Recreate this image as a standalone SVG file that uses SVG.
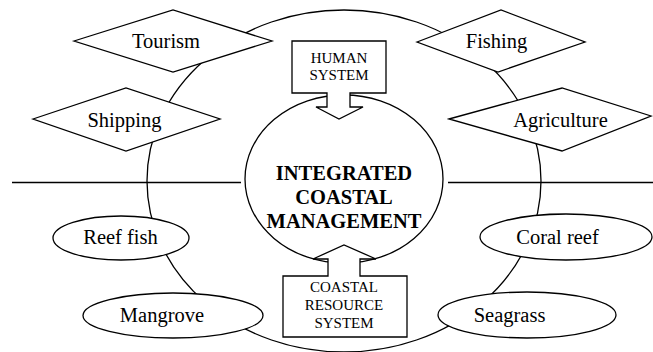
<svg xmlns="http://www.w3.org/2000/svg" width="653" height="352" viewBox="0 0 653 352">
<style>
.s{fill:#fff;stroke:#000;stroke-width:1.3}
.l{fill:none;stroke:#000;stroke-width:1.3}
text{font-family:'Liberation Serif','Times New Roman','DejaVu Serif',serif;fill:#000;text-anchor:middle}
.t{font-size:20.5px}
.c{font-size:15px}
.b{font-size:20.5px;font-weight:bold}
</style>
<rect width="653" height="352" fill="#fff"/>
<g id="connectors">
<ellipse class="l" cx="344" cy="181" rx="197" ry="171"/>
<line class="l" x1="12" y1="182.5" x2="241" y2="182.5"/>
<line class="l" x1="448" y1="182.5" x2="653" y2="182.5"/>
</g>
<g id="icm">
<ellipse class="s" cx="344" cy="179" rx="99" ry="84"/>
<text class="b" x="344" y="180" font-family="Liberation Serif, serif">INTEGRATED</text>
<text class="b" x="344" y="204" font-family="Liberation Serif, serif">COASTAL</text>
<text class="b" x="344" y="228" font-family="Liberation Serif, serif">MANAGEMENT</text>
</g>
<g id="human">
<path class="s" d="M292,41 H386 V93 H350 V107 H363 L339,119 L316,107 H327 V93 H292 Z"/>
<text class="c" x="339" y="63" font-family="Liberation Serif, serif">HUMAN</text>
<text class="c" x="339" y="80" font-family="Liberation Serif, serif">SYSTEM</text>
</g>
<g id="coastal">
<path class="s" d="M283,276 H328 V259 H313 L344,245 L376,259 H360 V276 H407 V337 H283 Z"/>
<text class="c" x="344" y="292" font-family="Liberation Serif, serif">COASTAL</text>
<text class="c" x="344" y="310" font-family="Liberation Serif, serif">RESOURCE</text>
<text class="c" x="344" y="328" font-family="Liberation Serif, serif">SYSTEM</text>
</g>
<g id="tourism">
<polygon class="s" points="74,41 173,10 272,41 173,72"/>
<text class="t" x="166" y="48" font-family="Liberation Serif, serif">Tourism</text>
</g>
<g id="shipping">
<polygon class="s" points="33,119 126,88 220,119 126,151"/>
<text class="t" x="124.5" y="127" font-family="Liberation Serif, serif">Shipping</text>
</g>
<g id="fishing">
<polygon class="s" points="417,42 501,10 585,42 498,72"/>
<text class="t" x="496.5" y="48" font-family="Liberation Serif, serif">Fishing</text>
</g>
<g id="agriculture">
<polygon class="s" points="449,119 562,88 651,116 562,151"/>
<text class="t" x="560.5" y="127" font-family="Liberation Serif, serif">Agriculture</text>
</g>
<g id="reeffish">
<ellipse class="s" cx="121" cy="238" rx="68" ry="22"/>
<text class="t" x="120.5" y="244" font-family="Liberation Serif, serif">Reef fish</text>
</g>
<g id="mangrove">
<ellipse class="s" cx="173" cy="315.5" rx="90" ry="22.5"/>
<text class="t" x="162" y="322" font-family="Liberation Serif, serif">Mangrove</text>
</g>
<g id="coralreef">
<ellipse class="s" cx="566" cy="237" rx="86" ry="23"/>
<text class="t" x="557.5" y="244" font-family="Liberation Serif, serif">Coral reef</text>
</g>
<g id="seagrass">
<ellipse class="s" cx="527" cy="315" rx="89" ry="23"/>
<text class="t" x="509.5" y="322" font-family="Liberation Serif, serif">Seagrass</text>
</g>
</svg>
